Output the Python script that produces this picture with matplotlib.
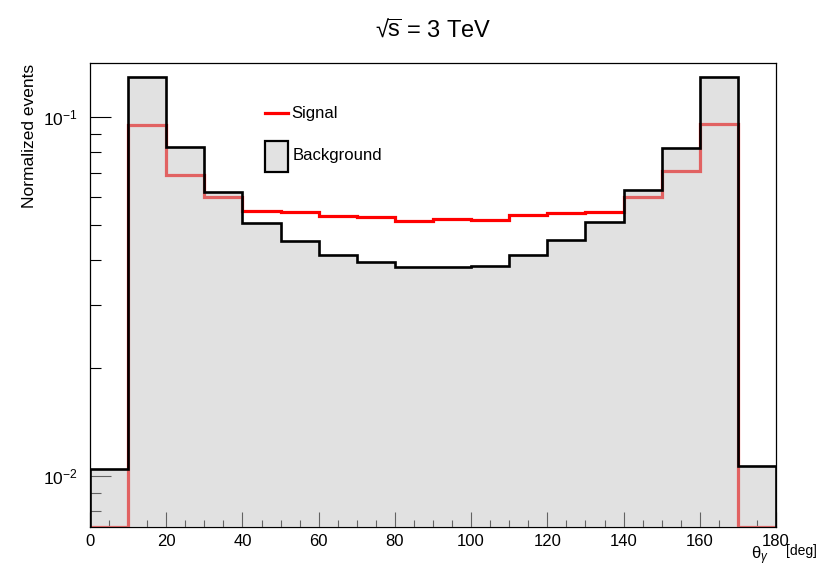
import numpy as np
import matplotlib
matplotlib.use("Agg")
import matplotlib.pyplot as plt
from matplotlib.ticker import LogLocator, NullFormatter, MultipleLocator
from matplotlib.patches import Rectangle
from matplotlib.lines import Line2D

plt.rcParams['font.family'] = ['Liberation Sans', 'DejaVu Sans']
plt.rcParams['mathtext.fontset'] = 'custom'
plt.rcParams['mathtext.rm'] = 'Liberation Sans'
plt.rcParams['mathtext.it'] = 'Liberation Sans:italic'
plt.rcParams['hatch.color'] = '#b0b0b0'
plt.rcParams['hatch.linewidth'] = 0.6

# photon polar angle, 10 degree bins
edges = np.arange(0, 181, 10)
background = [0.01045, 0.1296, 0.0825, 0.0619, 0.0509, 0.0453, 0.0413, 0.0396, 0.0383,
              0.0383, 0.0386, 0.0413, 0.0456, 0.0511, 0.0626, 0.0823, 0.1296, 0.0107]
signal = [0.0, 0.0954, 0.0691, 0.0600, 0.0549, 0.0545, 0.0530, 0.0528, 0.0516,
          0.0521, 0.0518, 0.0536, 0.0541, 0.0546, 0.0600, 0.0710, 0.0958, 0.0]

ymin, ymax = 0.00722, 0.1418

fig = plt.figure(figsize=(8.23, 5.70), dpi=100)
ax = fig.add_axes([90 / 823, 1 - 527 / 570, 686 / 823, 464 / 570])
ax.set_yscale('log')

# signal drawn first, empty bins sit on the lower edge
sig = np.where(np.array(signal) > 0, signal, ymin)
ax.stairs(sig, edges, color='red', lw=2.3, zorder=2)

# filled background on top, slightly transparent so the signal shows through
ax.stairs(background, edges, baseline=1e-5, fill=True, facecolor='#c4c4c4',
          alpha=0.5, hatch='.....', edgecolor='none', zorder=3)
ax.stairs(background, edges, baseline=1e-5, color='black', lw=1.9, zorder=4)

ax.set_xlim(0, 180)
ax.set_ylim(ymin, ymax)
ax.xaxis.set_major_locator(MultipleLocator(20))
ax.xaxis.set_minor_locator(MultipleLocator(5))
ax.yaxis.set_major_locator(LogLocator(base=10))
ax.yaxis.set_minor_locator(LogLocator(base=10, subs=np.arange(2, 10)))
ax.yaxis.set_minor_formatter(NullFormatter())
ax.set_axisbelow(True)

ax.tick_params(which='both', direction='in', top=False, right=False, width=0.8, labelsize=12)
ax.tick_params(axis='y', which='major', length=15, pad=9, labelsize=12.5)
ax.tick_params(axis='y', which='minor', length=8)
ax.tick_params(axis='x', which='major', length=11, pad=5)
ax.tick_params(axis='x', which='minor', length=5)
for s in ax.spines.values():
    s.set_linewidth(0.9)

# legend
ax.add_line(Line2D([0.255, 0.289], [0.892, 0.892], transform=ax.transAxes,
                   color='red', lw=2.3, zorder=5))
ax.text(0.294, 0.892, 'Signal', transform=ax.transAxes, fontsize=12, va='center')
ax.add_patch(Rectangle((0.255, 0.765), 0.034, 0.067, transform=ax.transAxes,
                       facecolor='#e2e2e2', edgecolor='black', lw=1.6, zorder=5))
ax.text(0.296, 0.800, 'Background', transform=ax.transAxes, fontsize=12, va='center')

fig.text(433 / 823, 1 - 30 / 570, r'√$\overline{\mathrm{s}}$ = 3 TeV', ha='center', va='center', fontsize=17)
fig.text(30 / 823, 1 - 64 / 570, 'Normalized events', rotation=90, ha='center', va='top', fontsize=12.5)
fig.text(760 / 823, 1 - 556 / 570, r'$\mathrm{\theta}_{\gamma}$', ha='center', va='center', fontsize=12)
fig.text(786 / 823, 1 - 551 / 570, '[deg]', ha='left', va='center', fontsize=10)

fig.savefig('out.png', dpi=100)
